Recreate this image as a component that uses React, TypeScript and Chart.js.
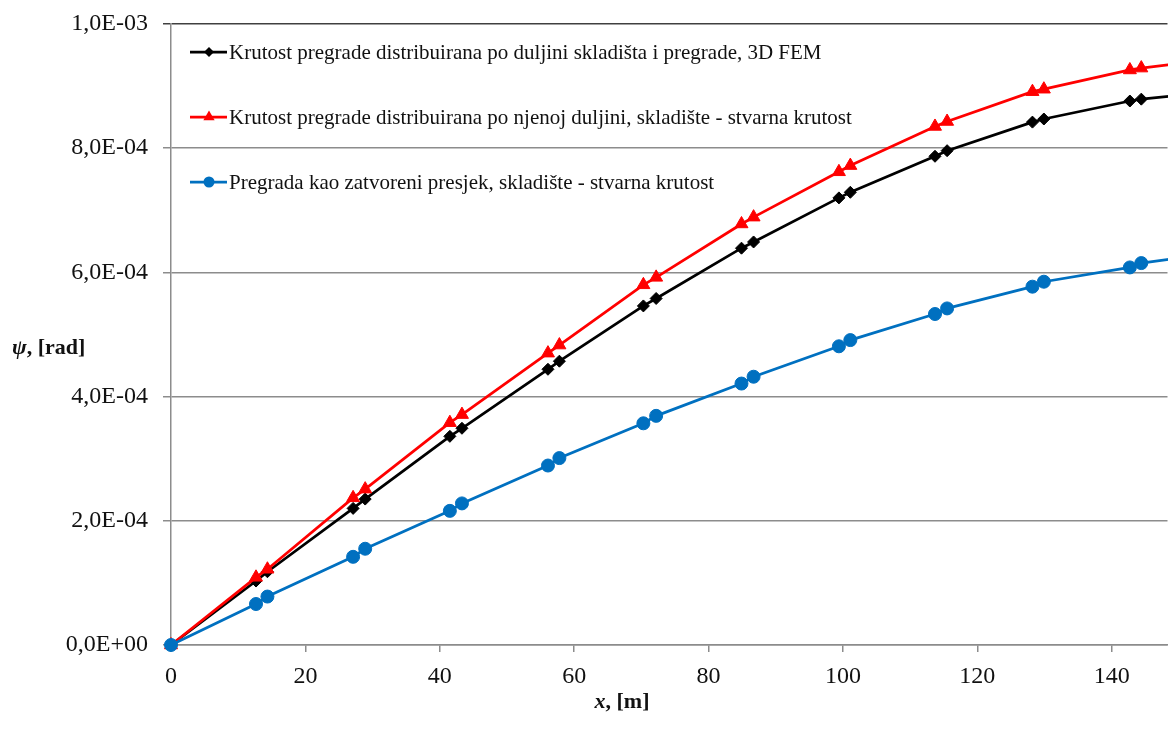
import React, { useEffect, useRef } from 'react';
import { Chart, registerables } from 'chart.js';

Chart.register(...registerables);

// x positions along the hold, [m]
const xPositions = [
  0, 12.65, 14.35, 27.1, 28.9, 41.5, 43.3, 56.1, 57.8, 70.3, 72.2,
  84.9, 86.7, 99.4, 101.1, 113.7, 115.5, 128.2, 129.9, 142.7, 144.4, 157.2,
];

// ψ [rad]
const blackSeries = [
  0, 1.03e-4, 1.18e-4, 2.2e-4, 2.35e-4, 3.36e-4, 3.49e-4, 4.44e-4, 4.57e-4, 5.46e-4, 5.58e-4,
  6.39e-4, 6.49e-4, 7.2e-4, 7.29e-4, 7.87e-4, 7.96e-4, 8.42e-4, 8.47e-4, 8.76e-4, 8.79e-4, 8.93e-4,
];
const redSeries = [
  0, 1.09e-4, 1.22e-4, 2.37e-4, 2.51e-4, 3.58e-4, 3.71e-4, 4.7e-4, 4.83e-4, 5.8e-4, 5.92e-4,
  6.78e-4, 6.89e-4, 7.62e-4, 7.72e-4, 8.35e-4, 8.43e-4, 8.91e-4, 8.95e-4, 9.26e-4, 9.29e-4, 9.46e-4,
];
const blueSeries = [
  0, 6.6e-5, 7.8e-5, 1.42e-4, 1.55e-4, 2.16e-4, 2.28e-4, 2.89e-4, 3.01e-4, 3.57e-4, 3.69e-4,
  4.21e-4, 4.32e-4, 4.81e-4, 4.91e-4, 5.33e-4, 5.42e-4, 5.77e-4, 5.85e-4, 6.08e-4, 6.15e-4, 6.34e-4,
];

const seriesNames = [
  'Krutost pregrade distribuirana po duljini skladišta i pregrade, 3D FEM',
  'Krutost pregrade distribuirana po njenoj duljini, skladište - stvarna krutost',
  'Pregrada kao zatvoreni presjek, skladište - stvarna krutost',
];

const xTickLabels = ['0', '20', '40', '60', '80', '100', '120', '140'];
const yTickLabels = ['0,0E+00', '2,0E-04', '4,0E-04', '6,0E-04', '8,0E-04', '1,0E-03'];

const FONT = "'Liberation Serif', 'Times New Roman', serif";

function drawMarker(ctx: CanvasRenderingContext2D, style: string, x: number, y: number, r: number, color: string) {
  ctx.save();
  ctx.fillStyle = color;
  ctx.beginPath();
  if (style === 'rectRot') {
    ctx.moveTo(x - r, y);
    ctx.lineTo(x, y - r);
    ctx.lineTo(x + r, y);
    ctx.lineTo(x, y + r);
    ctx.closePath();
  } else if (style === 'triangle') {
    const h = r * 1.5;
    const s = r * Math.sqrt(3);
    ctx.moveTo(x, y - h * 2 / 3);
    ctx.lineTo(x + s / 2, y + h / 3);
    ctx.lineTo(x - s / 2, y + h / 3);
    ctx.closePath();
  } else {
    ctx.arc(x, y, r, 0, Math.PI * 2);
  }
  ctx.fill();
  ctx.restore();
}

export default function App() {
  const ref = useRef<HTMLCanvasElement>(null);

  useEffect(() => {
    const canvas = ref.current;
    if (!canvas) return;
    const mk = (vals: number[]) => xPositions.map((x, i) => ({ x, y: vals[i] }));

    const styles = [
      { color: '#000000', point: 'rectRot', radius: 6, legendR: 5 },
      { color: '#ff0000', point: 'triangle', radius: 7.5, legendR: 6.5 },
      { color: '#0070c0', point: 'circle', radius: 6.5, legendR: 5.5 },
    ];

    const overlay = {
      id: 'overlay',
      afterDraw(chart: any) {
        const c: CanvasRenderingContext2D = chart.ctx;
        const a = chart.chartArea;
        styles.forEach((st, i) => {
          const y = a.top + 28 + i * 65;
          c.save();
          c.strokeStyle = st.color;
          c.lineWidth = 2.75;
          c.beginPath();
          c.moveTo(a.left + 19, y);
          c.lineTo(a.left + 56, y);
          c.stroke();
          c.restore();
          drawMarker(c, st.point, a.left + 38, y, st.legendR, st.color);
          c.save();
          c.fillStyle = '#111';
          c.font = `21px ${FONT}`;
          c.textBaseline = 'middle';
          c.textAlign = 'left';
          c.fillText(seriesNames[i], a.left + 58, y + 1);
          c.restore();
        });
        // y-axis title
        c.save();
        c.fillStyle = '#111';
        c.textBaseline = 'middle';
        c.textAlign = 'left';
        c.font = `bold italic 22px ${FONT}`;
        let tx = 12;
        const ty = 348;
        c.fillText('ψ', tx, ty);
        tx += c.measureText('ψ').width;
        c.font = `bold 22px ${FONT}`;
        c.fillText(', [rad]', tx, ty);
        // x-axis title
        c.font = `bold italic 22px ${FONT}`;
        const w1 = c.measureText('x').width;
        c.font = `bold 22px ${FONT}`;
        const w2 = c.measureText(', [m]').width;
        const sx = 622 - (w1 + w2) / 2;
        const sy = 702;
        c.font = `bold italic 22px ${FONT}`;
        c.fillText('x', sx, sy);
        c.font = `bold 22px ${FONT}`;
        c.fillText(', [m]', sx + w1, sy);
        c.restore();
      },
    };

    const seriesData = [blackSeries, redSeries, blueSeries];
    const orders = [2, 1, 0];

    const chart = new Chart(canvas, {
      type: 'scatter',
      data: {
        datasets: seriesData.map((vals, i) => ({
          label: seriesNames[i],
          data: mk(vals),
          showLine: true,
          borderColor: styles[i].color,
          backgroundColor: styles[i].color,
          borderWidth: 2.75,
          pointStyle: styles[i].point as any,
          pointRadius: styles[i].radius,
          pointBackgroundColor: styles[i].color,
          pointBorderColor: styles[i].color,
          pointBorderWidth: 1,
          tension: 0,
          clip: false as any,
          order: orders[i],
        })),
      },
      options: {
        responsive: false,
        animation: false,
        layout: { padding: { top: 24, right: 0, bottom: 0, left: 0 } },
        plugins: {
          legend: { display: false },
          tooltip: { enabled: false },
        },
        scales: {
          x: {
            type: 'linear',
            min: 0,
            max: 148.3,
            afterFit: (s: any) => { s.height = 95; },
            ticks: {
              stepSize: 20,
              includeBounds: false,
              autoSkip: false,
              maxRotation: 0,
              padding: 10,
              color: '#111',
              font: { family: FONT, size: 24 },
              callback: (_v: any, i: number) => xTickLabels[i],
            },
            grid: {
              drawOnChartArea: false,
              drawTicks: true,
              tickLength: 7,
              color: '#8c8c8c',
              lineWidth: 1.5,
            },
            border: { color: '#8c8c8c', width: 1.5 },
          },
          y: {
            type: 'linear',
            min: 0,
            max: 0.001,
            afterFit: (s: any) => { s.width = 171; s.paddingTop = 0; s.paddingBottom = 0; },
            ticks: {
              stepSize: 0.0002,
              padding: 15,
              color: '#111',
              font: { family: FONT, size: 24 },
              callback: (_v: any, i: number) => yTickLabels[i],
            },
            grid: {
              tickLength: 8,
              lineWidth: 1.5,
              color: (ctx: any) => (ctx.tick && ctx.tick.value > 0.00099 ? '#404040' : '#8c8c8c'),
            },
            border: { color: '#8c8c8c', width: 1.5 },
          },
        },
      },
      plugins: [overlay],
    });

    return () => chart.destroy();
  }, []);

  return (
    <div style={{ position: 'fixed', left: 0, top: 0, width: 1168, height: 740, overflow: 'hidden', background: '#fff' }}>
      <canvas ref={ref} width={1176} height={740} style={{ display: 'block' }} />
    </div>
  );
}
